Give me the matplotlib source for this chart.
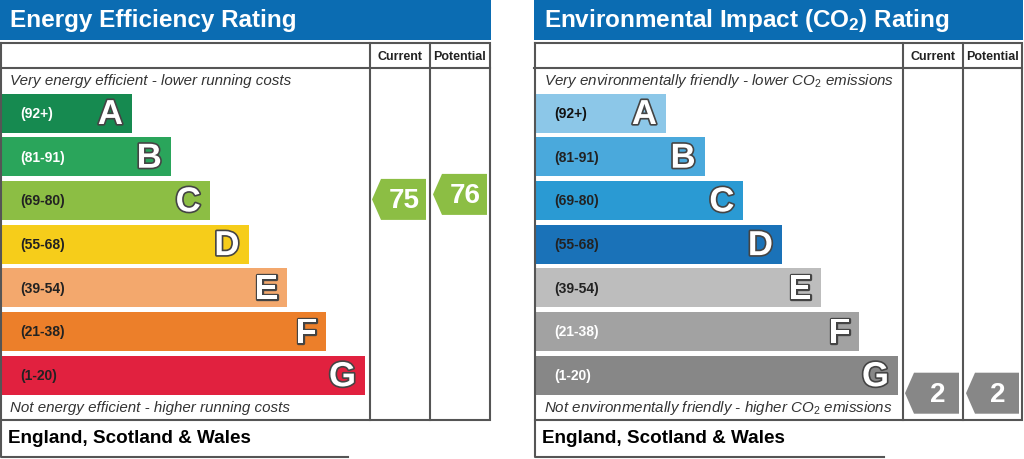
import matplotlib.pyplot as plt
import matplotlib.patheffects as pe
from matplotlib.patches import Rectangle, Polygon

plt.rcParams['font.family'] = ['Liberation Sans', 'DejaVu Sans']
plt.rcParams['mathtext.fontset'] = 'custom'
plt.rcParams['mathtext.rm'] = 'Liberation Sans'
plt.rcParams['mathtext.it'] = 'Liberation Sans:italic'
plt.rcParams['mathtext.bf'] = 'Liberation Sans:bold'

# data
bands = ['A', 'B', 'C', 'D', 'E', 'F', 'G']
ranges = ['(92+)', '(81-91)', '(69-80)', '(55-68)', '(39-54)', '(21-38)', '(1-20)']
band_low = [92, 81, 69, 55, 39, 21, 1]

ee_colors = ['#168a50', '#2aa55b', '#8cbe44', '#f6cd1a', '#f3a86d', '#ec7f2a', '#e1213f']
ee_label_colors = ['white', 'white', '#222222', '#222222', '#222222', '#222222', '#222222']
ee_current = 75
ee_potential = 76

ei_colors = ['#8cc7e8', '#4aa9dc', '#2a9ad3', '#1a72b8', '#bdbdbd', '#a2a2a2', '#878787']
ei_label_colors = ['#111111', '#222222', '#222222', '#222222', '#222222', 'white', 'white']
ei_current = 2
ei_potential = 2

header_blue = '#0b6cb2'
line_col = '#555555'

fig = plt.figure(figsize=(10.24, 4.6), dpi=100)
ax = fig.add_axes([0, 0, 1, 1])
ax.set_xlim(0, 1024)
ax.set_ylim(460, 0)
ax.axis('off')


def band_of(value):
    for i, lo in enumerate(band_low):
        if value >= lo:
            return i
    return len(bands) - 1


def arrow(x0, x1, yc, h, color, text):
    tip = 9
    pts = [(x0, yc), (x0 + tip, yc - h / 2), (x1, yc - h / 2), (x1, yc + h / 2), (x0 + tip, yc + h / 2)]
    ax.add_patch(Polygon(pts, closed=True, facecolor=color, edgecolor='none'))
    ax.text((x0 + tip + x1) / 2 + 1, yc + 1, text, color='white', fontsize=20, fontweight='bold',
            ha='center', va='center')


def panel(x0, title, top_text, bottom_text, colors, label_colors, current, potential, bar_end_max,
          table_right, col1, col2, foot_right, nudge_cur, nudge_pot):
    # header
    ax.add_patch(Rectangle((x0, 0), table_right - x0 + 1, 41, facecolor=header_blue, edgecolor='none'))
    ax.text(x0 + 10, 21, title, color='white', fontsize=17.5, fontweight='bold', va='center', ha='left')

    # table frame
    ax.plot([x0 + 0.5, table_right, table_right, x0 + 0.5, x0 + 0.5],
            [43.5, 43.5, 420.5, 420.5, 43.5], color=line_col, lw=1.5, solid_joinstyle='miter')
    ax.plot([x0, table_right], [69, 69], color=line_col, lw=1.5)
    for cx in (col1, col2):
        ax.plot([cx, cx], [43.5, 420.5], color=line_col, lw=1.5)
    ax.text((col1 + col2) / 2, 57, 'Current', fontsize=9, fontweight='bold', ha='center', va='center',
            color='#222222')
    ax.text((col2 + table_right) / 2, 57, 'Potential', fontsize=9, fontweight='bold', ha='center',
            va='center', color='#222222')

    ax.text(x0 + 10, 81, top_text, fontsize=10.9, style='italic', color='#333333', va='center')
    ax.text(x0 + 10, 408, bottom_text, fontsize=10.9, style='italic', color='#333333', va='center')

    # bands
    step = (bar_end_max - (x0 + 132)) / 6
    for i, b in enumerate(bands):
        top = 94.5 + i * 43.7
        right = x0 + 132 + i * step
        ax.add_patch(Rectangle((x0 + 2, top), right - x0 - 2, 39, facecolor=colors[i], edgecolor='none'))
        ax.text(x0 + 20, top + 19.5, ranges[i], fontsize=10, fontweight='bold', color=label_colors[i],
                va='center', ha='left')
        t = ax.text(right - 9, top + 21, b, fontsize=25, fontweight='bold', color='white',
                    va='center', ha='right')
        t.set_path_effects([pe.Stroke(linewidth=2.4, foreground='#444444'), pe.Normal()])

    # arrows
    ci = band_of(current)
    pi = band_of(potential)
    arrow(col1 + 2, col2 - 4, 94.5 + ci * 43.7 + 19.5 + nudge_cur, 41, colors[ci], str(current))
    arrow(col2 + 3, table_right - 3, 94.5 + pi * 43.7 + 19.5 + nudge_pot, 41, colors[pi], str(potential))

    # footer
    ax.plot([x0 + 0.5, x0 + 0.5, foot_right], [420.5, 458, 458], color=line_col, lw=1.5)
    ax.text(x0 + 8, 439, 'England, Scotland & Wales', fontsize=13.6, fontweight='bold', color='black',
            va='center', ha='left')


panel(0, 'Energy Efficiency Rating',
      'Very energy efficient - lower running costs',
      'Not energy efficient - higher running costs',
      ee_colors, ee_label_colors, ee_current, ee_potential,
      365, 490, 370, 430, 348, -1, -6)

panel(534, r'Environmental Impact (CO$_\mathbf{2}$) Rating',
      r'Very environmentally friendly - lower CO$_\mathit{2}$ emissions',
      r'Not environmentally friendly - higher CO$_\mathit{2}$ emissions',
      ei_colors, ei_label_colors, ei_current, ei_potential,
      898, 1022, 903, 963, 884, 18, 18)

fig.savefig('out.png', dpi=100)
